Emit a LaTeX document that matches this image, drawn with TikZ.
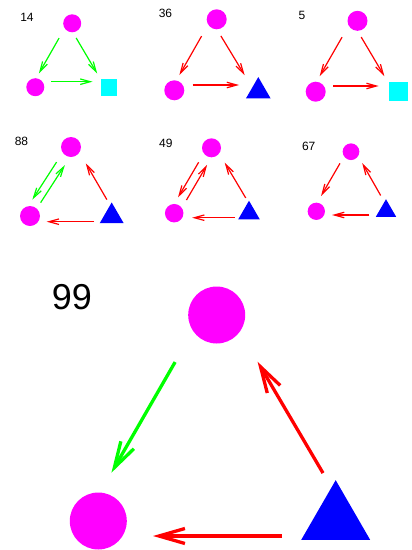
\documentclass[tikz,border=0pt]{standalone}
\usepackage{fontspec}
\setmainfont{Liberation Sans}
\usetikzlibrary{arrows.meta,shapes.geometric,calc}
\definecolor{vmag}{HTML}{FF00FF}
\definecolor{vcyan}{HTML}{00FFFF}
\definecolor{vblue}{HTML}{0000FF}
\definecolor{egreen}{HTML}{00FF00}
\definecolor{ered}{HTML}{FF0000}

\begin{document}
\begin{tikzpicture}[x=1pt,y=-1pt,
  dot/.style={circle,fill=vmag,inner sep=0pt,minimum size=#1},
  box/.style={rectangle,fill=vcyan,inner sep=0pt,minimum size=#1},
  tri/.style={regular polygon,regular polygon sides=3,fill=vblue,inner sep=0pt,minimum size=#1},
  tag/.style={inner sep=0pt,font=\fontsize{12}{14}\selectfont},
  edgegap/.style 2 args={shorten <=#1pt,shorten >=#2pt},
  gl/.style={draw=egreen,line width=1.2pt,-{Straight Barb[length=10pt,width=5.5pt]}},
  rl/.style={draw=ered,line width=1.2pt,-{Straight Barb[length=10pt,width=5.5pt]}},
  big/.style={line width=3.3pt,-{Straight Barb[length=26pt,width=15pt]}}]
  \useasboundingbox (0,0) rectangle (412,550);
  \foreach \lbl/\x/\y in {14/27/17.5, 36/165.5/13.5, 5/302/15.5, 88/21.5/141.2, 49/165.8/143, 67/308.7/146.7}
    \node[tag] (lab\lbl) at (\x,\y) {\lbl};
  \node[tag,font=\fontsize{36}{40}\selectfont] (lab99) at (72,297.5) {99};
  % where the links point
  \foreach \p/\tx/\ty/\lx/\rx/\by in {14/67.5/23.3/34.2/102/81.7, 36/211/19.6/173.7/250.6/85,
      5/351.5/20.7/314/390.2/86, 88/74/143/23.2/119.7/221.7, 49/214/144.6/171.1/257.5/217.7,
      67/351.3/143.9/310/391.8/215, 99/216/291/75/360/536} {
    \coordinate (t\p) at (\tx,\ty);
    \coordinate (l\p) at (\lx,\by);
    \coordinate (r\p) at (\rx,\by);
  }
  \foreach \n/\x/\y/\sz in {top14/72.2/23.3/18, left14/35.3/87.2/18, top36/216.7/19.3/20, left36/174.3/90.3/20,
      top5/357.5/20.8/20, left5/315.7/91.7/20, top88/71/147/20, left88/30/216/20,
      top49/211.5/147.8/19, left49/174.2/213.2/18.5, top67/351/151.7/16.7, left67/316.3/211.3/17.3,
      top99/216.7/315/57, left99/98.3/521/57}
    \node[dot=\sz pt] (\n) at (\x,\y) {};
  \node[box=16.5pt] (box14) at (109.2,87.3) {};
  \node[box=19pt] (box5) at (398.7,91.2) {};
  \foreach \n/\x/\y/\sz in {tri36/258.3/91.3/28.5, tri88/111.7/216.3/27.7, tri49/249/213.2/25,
      tri67/386/210.9/23.4, tri99/335.7/520/79.7}
    \node[tri=\sz pt] (\n) at (\x,\y) {};

  \draw[gl,edgegap={17}{9.5}] (t14) -- (l14);
  \draw[gl,edgegap={17}{9.5}] (t14) -- (r14);
  \draw[gl,edgegap={17}{9.5}] (l14) -- (r14);

  \draw[rl,edgegap={19}{11.5}] (t36) -- (l36);
  \draw[rl,edgegap={19}{11.5}] (t36) -- (r36);
  \draw[rl,edgegap={19}{11.5}] (l36) -- (r36);

  \draw[rl,edgegap={19}{11.5}] (t5) -- (l5);
  \draw[rl,edgegap={19}{11.5}] (t5) -- (r5);
  \draw[rl,edgegap={19}{11.5}] (l5) -- (r5);

  \draw[gl,edgegap={25.5}{23.5}] ($(t88)!4.3pt!-90:(l88)$) -- ($(l88)!4.3pt!90:(t88)$);
  \draw[gl,edgegap={25.5}{23.5}] ($(l88)!4.3pt!-90:(t88)$) -- ($(t88)!4.3pt!90:(l88)$);
  \draw[rl,edgegap={25.5}{23.5}] (r88) -- (t88);
  \draw[rl,edgegap={25.5}{23.5}] (r88) -- (l88);

  \draw[rl,edgegap={23}{21}] ($(t49)!4.3pt!-90:(l49)$) -- ($(l49)!4.3pt!90:(t49)$);
  \draw[rl,edgegap={23}{21}] ($(l49)!4.3pt!-90:(t49)$) -- ($(t49)!4.3pt!90:(l49)$);
  \draw[rl,edgegap={23}{21}] (r49) -- (t49);
  \draw[rl,edgegap={23}{21}] (r49) -- (l49);

  \draw[rl,edgegap={22.5}{22}] (t67) -- (l67);
  \draw[rl,edgegap={22.5}{22}] (r67) -- (t67);
  \draw[rl,edgegap={22.5}{22}] (r67) -- (l67);

  \draw[gl,big,edgegap={82}{73}] (t99) -- (l99);
  \draw[rl,big,edgegap={73}{82}] (r99) -- (t99);
  \draw[rl,big,edgegap={78}{78}] (r99) -- (l99);
\end{tikzpicture}
\end{document}
